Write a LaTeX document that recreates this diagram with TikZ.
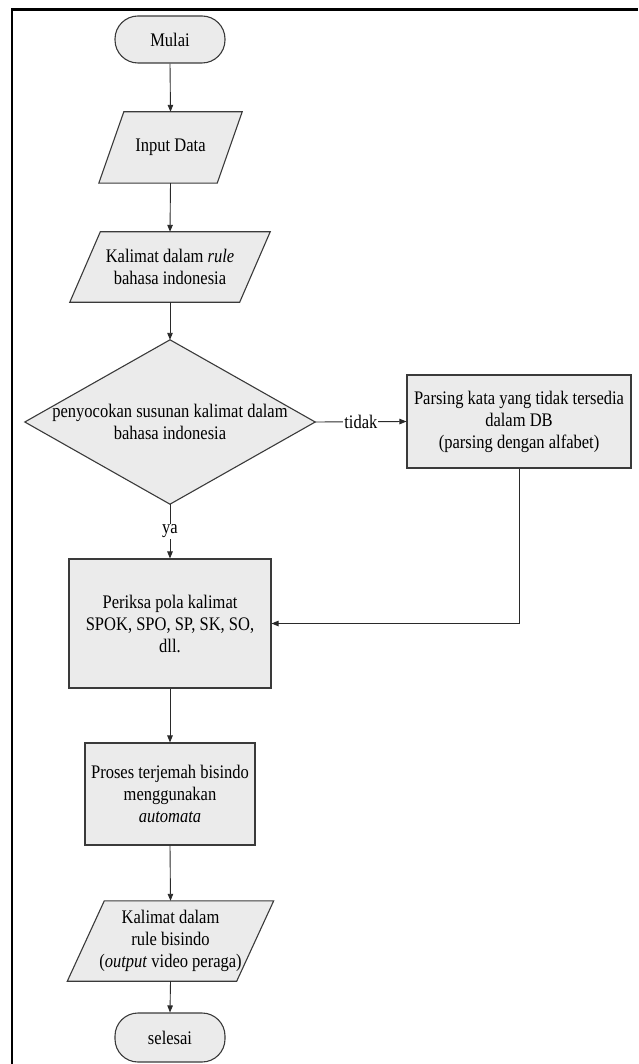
\documentclass[tikz,border=0pt]{standalone}
\usepackage{fontspec}
\setmainfont{Liberation Serif}[FakeStretch=0.86]
\usetikzlibrary{arrows.meta,backgrounds,calc}
\definecolor{boxfill}{HTML}{EBEBEB}
\definecolor{boxline}{HTML}{3A3A3A}
\definecolor{conn}{HTML}{2A2A2A}
\begin{document}
\begin{tikzpicture}[x=1pt,y=-1pt,
  every node/.style={font=\fontsize{19.2}{22}\selectfont, text=black},
  base/.style={inner sep=0pt, align=center},
  term/.style={base, draw=boxline, line width=1.1pt, fill=boxfill, rounded corners=23pt, minimum width=110pt},
  procbox/.style={base, draw=boxline, line width=1.1pt, fill=boxfill},
  ghost/.style={base, draw=none, fill=none},
  shapeline/.style={draw=boxline, line width=1.1pt, fill=boxfill},
  conn/.style={draw=conn, line width=0.9pt, -{Triangle[length=7pt,width=5.5pt]}},
  lbl/.style={fill=white, inner sep=1pt, font=\fontsize{19.2}{22}\selectfont}
]
\useasboundingbox (0,0) rectangle (638,1064);
% frame (top and left)
\draw[line width=2.2pt, black] (12,1064) -- (12,9.5) -- (638,9.5);

% nodes
\node[term, minimum height=47pt] (mulai) at (170,39.5) {Mulai};
\node[ghost, minimum width=118pt, minimum height=71pt] (inp) at (170.5,147.5) {Input Data};
\node[ghost, minimum width=169.5pt, minimum height=70pt] (rule) at (170,267) {Kalimat dalam \textit{rule}\\bahasa indonesia};
\node[ghost, minimum width=290pt, minimum height=164pt] (dia) at (170,422) {penyocokan susunan kalimat dalam\\bahasa indonesia};
\node[procbox, minimum width=224pt, minimum height=93pt] (pars) at (519,421.5) {Parsing kata yang tidak tersedia\\dalam DB\\(parsing dengan alfabet)};
\node[procbox, minimum width=202pt, minimum height=129pt] (per) at (170,623.5) {Periksa pola kalimat\\SPOK, SPO, SP, SK, SO,\\dll.};
\node[procbox, minimum width=170pt, minimum height=102pt] (pro) at (170,794) {Proses terjemah bisindo\\menggunakan\\\textit{automata}};
\node[ghost, minimum width=169pt, minimum height=80pt] (out) at (170.5,941) {Kalimat dalam\\rule bisindo\\(\textit{output} video peraga)};
\node[term, minimum height=49pt] (sel) at (170,1037.5) {selesai};

% shapes drawn behind the text
\begin{scope}[on background layer]
  \path[shapeline] ([xshift=12.5pt]inp.north west) -- ([xshift=12.5pt]inp.north east)
     -- ([xshift=-12.5pt]inp.south east) -- ([xshift=-12.5pt]inp.south west) -- cycle;
  \path[shapeline] ([xshift=15.25pt]rule.north west) -- ([xshift=15.25pt]rule.north east)
     -- ([xshift=-15.25pt]rule.south east) -- ([xshift=-15.25pt]rule.south west) -- cycle;
  \path[shapeline] (dia.north) -- (dia.east) -- (dia.south) -- (dia.west) -- cycle;
  \path[shapeline] ([xshift=18.5pt]out.north west) -- ([xshift=18.5pt]out.north east)
     -- ([xshift=-18.5pt]out.south east) -- ([xshift=-18.5pt]out.south west) -- cycle;
\end{scope}

% connectors
\draw[conn] (mulai.south) -- (inp.north);
\draw[conn] (inp.south) -- (rule.north);
\draw[conn] (rule.south) -- (dia.north);
\draw[conn] (dia.east) -- node[lbl] {tidak} (pars.west);
\draw[conn] (dia.south) -- node[lbl] {ya} (per.north);
\draw[conn] (pars.south) |- (per.east);
\draw[conn] (per.south) -- (pro.north);
\draw[conn] (pro.south) -- (out.north);
\draw[conn] (out.south) -- (sel.north);
\end{tikzpicture}
\end{document}
